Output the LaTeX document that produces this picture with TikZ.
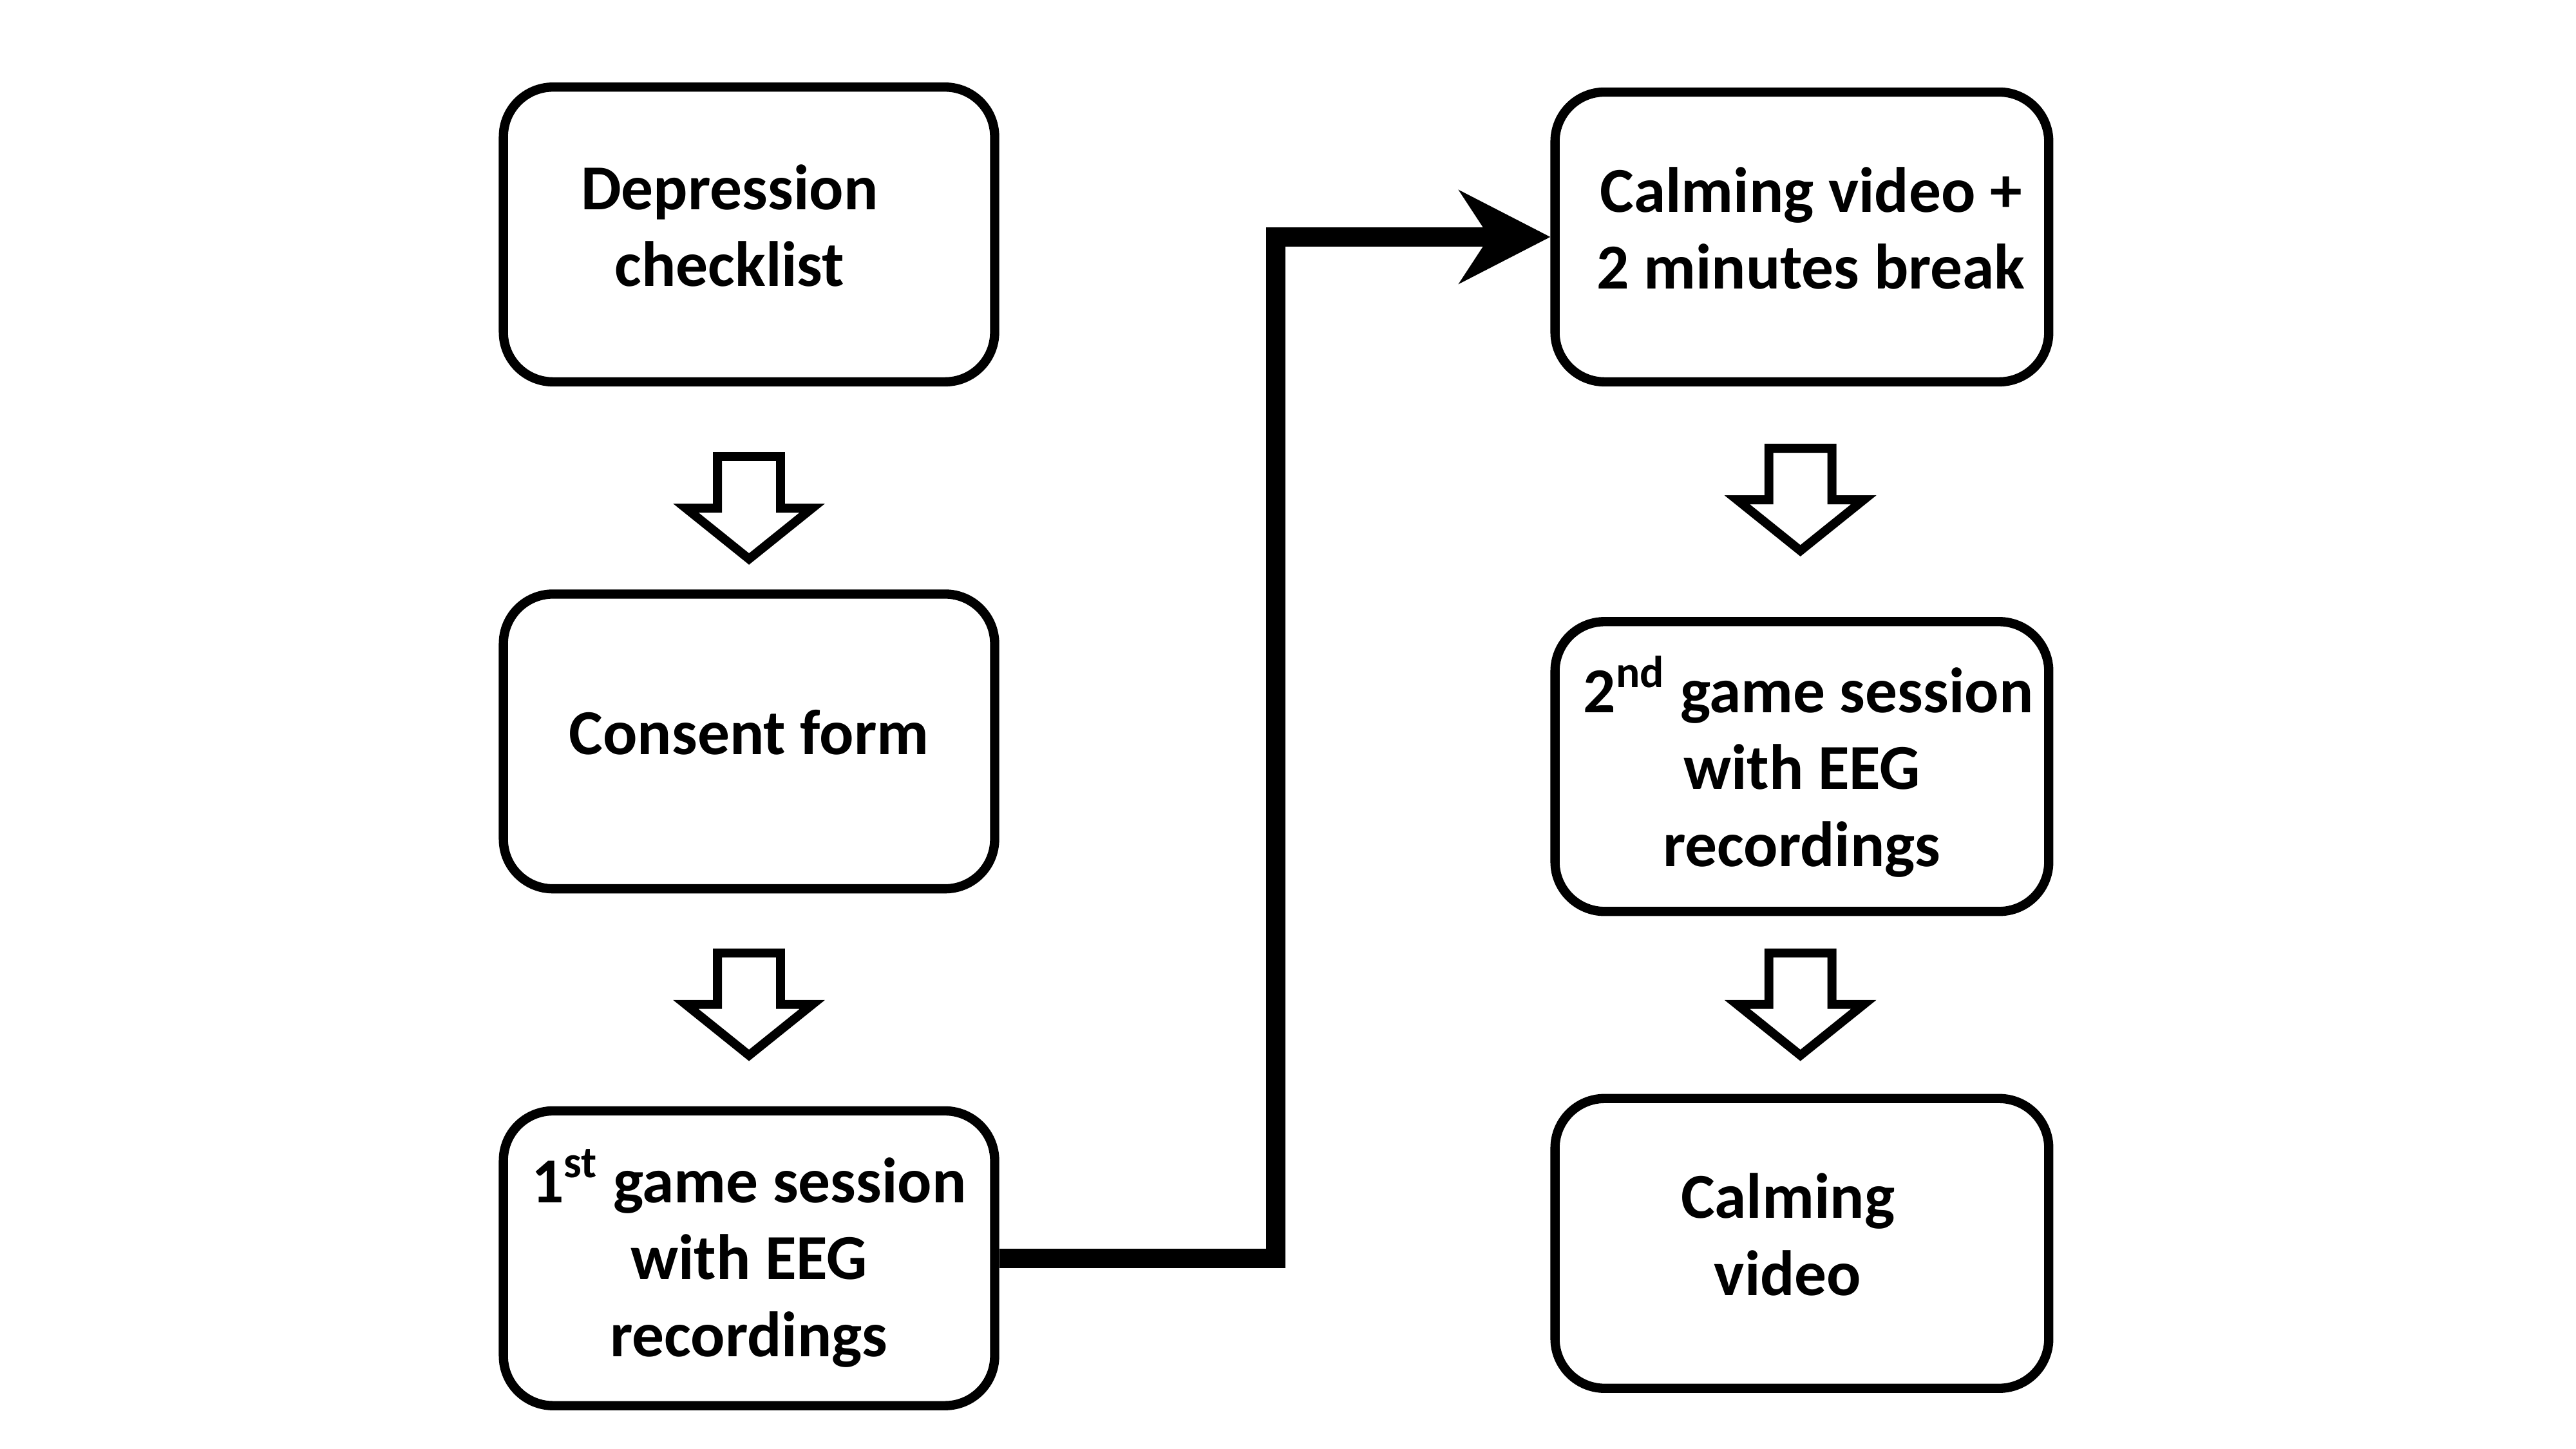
\documentclass[tikz,border=0pt]{standalone}
\usepackage{fontspec}
\setmainfont{Carlito}
\usetikzlibrary{arrows.meta}
\newcommand{\dstrut}{\rule[-5.5pt]{0pt}{5.5pt}}
\begin{document}
\begin{tikzpicture}[x=0.5pt, y=-0.5pt,
	stepbox/.style={draw, line width=2.8pt, rounded corners=15pt, align=center,
		font=\bfseries\fontsize{19.4}{23.3}\selectfont,
		minimum width=148.75pt, minimum height=89.25pt},
	stepboxr/.style={stepbox, minimum width=149.5pt, minimum height=87.75pt},
	hollow/.style={draw, line width=2.7pt, fill=white},
	link/.style={line width=5.85pt, -{Stealth[length=27.5pt, width=28pt, inset=9pt]}}]
\useasboundingbox (0,0) rectangle (1560,877.5);
% left column
\node[stepbox] (checklist) at (453.6,142) {Depression\hspace*{11.8pt}\\checklist\hspace*{11.8pt}\dstrut};
\node[stepbox] (consent) at (453.6,449) {Consent form\dstrut};
\node[stepbox] (game1) at (453.6,762) {1\textsuperscript{st} game session\\with EEG\\recordings};
% right column
\node[stepboxr] (calm1) at (1091.2,143.5) {\hspace*{5.5pt}Calming video +\\\hspace*{5.5pt}2 minutes break\dstrut};
\node[stepboxr] (game2) at (1091.2,464.2) {\hspace*{4pt}2\textsuperscript{nd} game session\\with EEG\\recordings};
\node[stepboxr] (calm2) at (1091.2,753) {Calming\hspace*{8.5pt}\\video\hspace*{8.5pt}\dstrut};
% block arrows between the steps
\foreach \ax/\ay in {453.6/276.5, 453.6/577.1, 1090.3/271.5, 1090.3/577.1}{
	\draw[hollow] (\ax-19.1,\ay) -- (\ax+19.1,\ay) -- (\ax+19.1,\ay+31.2) -- (\ax+38.3,\ay+31.2)
		-- (\ax,\ay+62) -- (\ax-38.3,\ay+31.2) -- (\ax-19.1,\ay+31.2) -- cycle;
}
% from the first session over to the break
\coordinate (bend) at (772.6,143.5);
\draw[link] (game1.east) -| (bend) -- (bend -| calm1.west);
\end{tikzpicture}
\end{document}
